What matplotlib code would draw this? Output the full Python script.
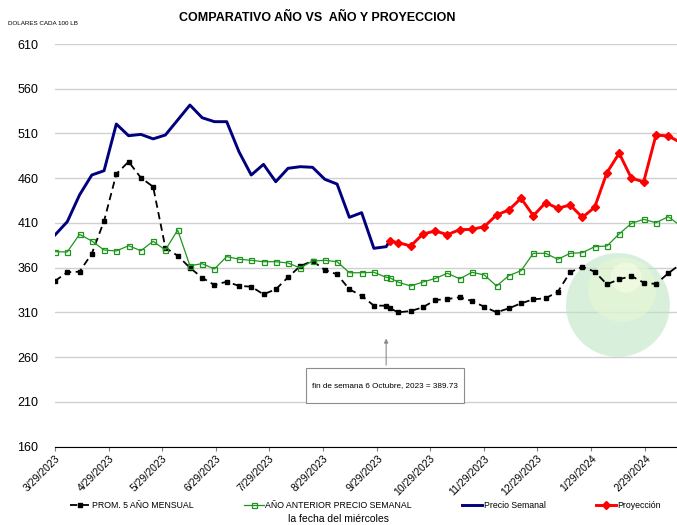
import datetime as dt
import numpy as np
import matplotlib
matplotlib.use("Agg")
import matplotlib.pyplot as plt
from matplotlib.patches import Ellipse, Rectangle

# weekly wednesdays, plus the 6 Oct 2023 point where the projection starts
start = dt.date(2023, 3, 29)
weeks = [start + dt.timedelta(days=7 * i) for i in range(52)]
dates = weeks[:28] + [dt.date(2023, 10, 6)] + weeks[28:]

precio_semanal = [396.6, 411.4, 441.3, 463.6, 468.4, 520.6, 507.5, 509.0, 504.0, 508.3,
                  525.0, 541.8, 527.6, 523.2, 523.2, 489.6, 463.6, 475.5, 456.1, 471.1,
                  472.9, 472.2, 458.8, 453.5, 416.3, 421.5, 381.7, 383.5, 389.73]

proyeccion = [389.73, 388.0, 384.3, 397.7, 401.0, 397.0, 402.5, 402.9, 405.9, 418.9,
              424.5, 437.6, 418.1, 432.7, 426.4, 430.1, 416.3, 427.5, 466.2, 487.9,
              459.9, 456.1, 508.3, 507.2, 500.0]

anio_anterior = [377.9, 377.6, 397.3, 389.9, 379.8, 378.7, 384.6, 379.0, 389.5, 379.8,
                 402.1, 362.3, 364.5, 358.6, 372.5, 369.5, 368.3, 366.7, 366.7, 365.3,
                 359.7, 367.5, 368.3, 366.7, 354.4, 354.4, 354.9, 349.3, 348.9,
                 343.7, 339.6, 344.0, 348.0, 353.8, 347.6, 354.9, 351.9, 339.6, 351.1,
                 356.7, 376.1, 376.1, 369.4, 376.1, 376.8, 383.5, 384.3, 397.7, 409.6,
                 414.1, 410.3, 417.0, 407.0]

prom_5_anios = [345.2, 354.9, 355.6, 375.7, 412.2, 464.7, 478.5, 460.6, 450.5, 382.4,
                373.4, 360.0, 348.8, 340.7, 344.4, 339.7, 338.8, 330.3, 335.9, 349.3,
                361.9, 367.5, 357.5, 352.6, 335.9, 328.7, 317.6, 317.6, 314.6,
                310.2, 311.6, 315.8, 323.9, 325.0, 327.0, 322.8, 316.4, 310.2, 314.6,
                320.2, 324.7, 325.8, 333.2, 354.9, 361.1, 355.6, 341.5, 347.1, 350.7,
                343.3, 341.8, 353.8, 364.0]

tick_dates = [dt.date(2023, m, 29) for m in range(3, 13)] + [dt.date(2024, 1, 29), dt.date(2024, 2, 29)]
tick_labels = [f"{d.month}/{d.day}/{d.year}" for d in tick_dates]
y_ticks = [160, 210, 260, 310, 360, 410, 460, 510, 560, 610]

plt.rcParams['font.family'] = ['Liberation Sans', 'DejaVu Sans']

fig = plt.figure(figsize=(6.77, 5.25), dpi=100)
ax = fig.add_axes([55 / 677, 1 - 446.7 / 525, 622 / 677, (446.7 - 44) / 525])

# faint globe watermark
ax.add_patch(Ellipse((0.905, 0.352), 0.167, 0.258, transform=ax.transAxes,
                     facecolor='#bfe6c4', edgecolor='none', alpha=0.6, zorder=1.2))
ax.add_patch(Ellipse((0.912, 0.39), 0.11, 0.16, transform=ax.transAxes,
                     facecolor='#e8f7d4', edgecolor='none', alpha=0.6, zorder=1.3))
ax.add_patch(Ellipse((0.918, 0.42), 0.05, 0.075, transform=ax.transAxes,
                     facecolor='#f7fde8', edgecolor='none', alpha=0.6, zorder=1.3))

ax.plot(dates, prom_5_anios, color='black', ls=(0, (4, 2.5)), lw=1.3, marker='s',
        ms=3.3, label='PROM. 5 AÑO MENSUAL', zorder=3)
ax.plot(dates, anio_anterior, color='#1e961e', lw=0.9, marker='s', ms=3.6,
        mfc='none', mew=0.9, label='AÑO ANTERIOR PRECIO SEMANAL', zorder=3)
ax.plot(dates[:len(precio_semanal)], precio_semanal, color='#00007f', lw=2.1,
        label='Precio Semanal', zorder=4)
ax.plot(dates[28:], proyeccion, color='#ff0000', lw=2.1, marker='D', ms=4.2,
        label='Proyección', zorder=5)

ax.set_ylim(160, 610)
ax.set_yticks(y_ticks)
ax.set_xlim(start, start + dt.timedelta(days=355))
ax.set_xticks(tick_dates)
ax.set_xticklabels(tick_labels, rotation=45, ha='right', va='top',
                   rotation_mode='anchor', fontsize=7.5)
ax.tick_params(axis='y', length=0, labelsize=9, pad=12)
ax.tick_params(axis='x', length=3, color='#7f7f7f', pad=2)
ax.grid(axis='y', color='#d0d0d0', lw=1)
ax.set_axisbelow(True)
for s in ['top', 'right', 'left']:
    ax.spines[s].set_visible(False)
ax.spines['bottom'].set_color('black')

# annotation for the start of the projection
ax.annotate('', xy=(dt.date(2023, 10, 4), 284), xytext=(dt.date(2023, 10, 4), 248),
            arrowprops=dict(arrowstyle='-|>', color='#8c8c8c', lw=0.8, mutation_scale=6))
fig.patches.append(Rectangle((306 / 677, 1 - 403 / 525), 158 / 677, 35 / 525,
                             transform=fig.transFigure, fc='white', ec='#8c8c8c',
                             lw=0.8, zorder=6))
fig.text(385 / 677, 1 - 386 / 525, 'fin de semana 6 Octubre, 2023 = 389.73',
         ha='center', va='center', fontsize=5.9, zorder=7)

fig.text(0.468, 0.966, 'COMPARATIVO AÑO VS  AÑO Y PROYECCION', ha='center', va='center',
         fontsize=9, fontweight='bold')
fig.text(0.012, 0.956, 'DOLARES CADA 100 LB', ha='left', va='center', fontsize=4.5)

fig.legend(loc='center', bbox_to_anchor=(0.54, 0.037), ncol=4, frameon=False,
           fontsize=6.3, handlelength=2.3, columnspacing=5.7, handletextpad=0.2)
fig.text(0.5, 0.002, 'la fecha del miércoles', ha='center', va='bottom', fontsize=7.5)

fig.savefig('out.png', dpi=100)
